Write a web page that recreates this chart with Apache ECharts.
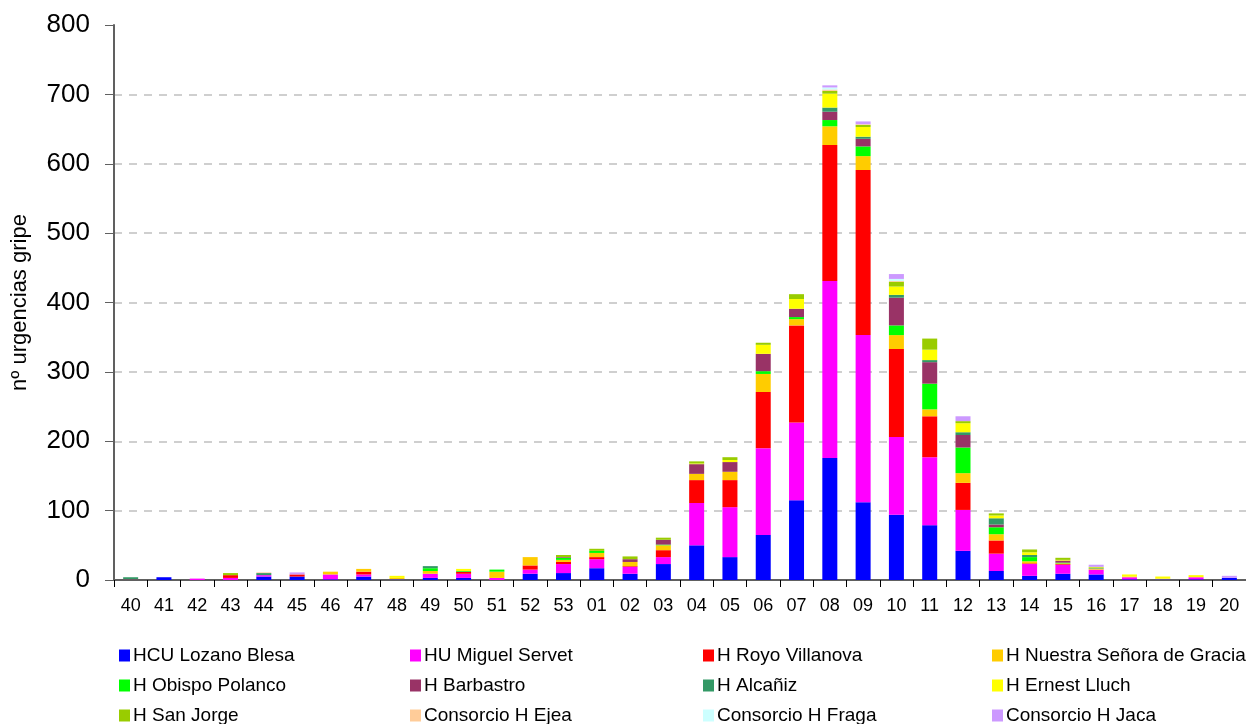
<!DOCTYPE html>
<html>
<head>
<meta charset="utf-8">
<script src="https://cdn.jsdelivr.net/npm/echarts@6/dist/echarts.min.js"></script>
<style>
html,body{margin:0;padding:0;background:#fff;}
#chart{width:1246px;height:724px;}
</style>
</head>
<body>
<div id="chart"></div>
<script>
const weeks = ['40','41','42','43','44','45','46','47','48','49','50','51','52','53','01','02','03','04','05','06','07','08','09','10','11','12','13','14','15','16','17','18','19','20'];
const yTicks = [0,100,200,300,400,500,600,700,800];

//                40 41 42 43 44 45 46 47 48 49 50 51 52 53 01 02 03 04 05  06  07  08  09  10  11  12  13 14 15 16 17 18 19 20
const hcuLozano  = [0, 4, 0, 0, 5, 5, 1, 5, 1, 3, 3, 0, 9,10,17, 9,23,50,33, 65,115,176,112, 94, 79, 42, 13, 6, 9, 8, 1, 1, 1, 3];
const huMiguel   = [0, 0, 2, 3, 2, 0, 7, 3, 0, 6, 6, 3, 6,13,13,10,10,61,72,125,112,255,241,112, 98, 59, 25,17,13, 7, 3, 0, 3, 0];
const hRoyo      = [0, 0, 0, 4, 0, 3, 0, 4, 0, 0, 3, 0, 6, 3, 3, 1,10,33,39, 81,140,196,238,127, 59, 39, 19, 1, 1, 0, 0, 0, 0, 0];
const hNuestra   = [0, 0, 0, 0, 0, 0, 4, 4, 2, 4, 0, 9,12, 3, 6, 6, 7, 9,12, 26,  9, 27, 20, 20, 10, 14,  9, 3, 1, 1, 1, 1, 0, 0];
const hObispo    = [0, 0, 0, 0, 0, 0, 0, 0, 0, 4, 1, 3, 0, 3, 3, 0, 1, 0, 0,  4,  3,  9, 14, 14, 37, 37, 10, 6, 1, 0, 0, 0, 0, 0];
const hBarbastro = [1, 0, 0, 0, 0, 0, 0, 0, 0, 0, 0, 0, 0, 1, 0, 4, 7,14,14, 25, 12, 12, 11, 40, 31, 18,  4, 0, 3, 0, 0, 0, 0, 0];
const hAlcaniz   = [3, 0, 0, 0, 3, 0, 0, 0, 0, 3, 0, 0, 0, 0, 0, 0, 0, 0, 0,  0,  0,  6,  3,  4,  3,  4,  9, 3, 0, 1, 0, 0, 0, 0];
const hErnest    = [0, 0, 0, 0, 0, 0, 0, 0, 3, 0, 3, 0, 0, 0, 0, 0, 0, 1, 3, 13, 14, 20, 14, 12, 15, 13,  4, 4, 1, 1, 3, 3, 3, 0];
const hSanJorge  = [0, 0, 0, 3, 0, 0, 0, 0, 0, 0, 0, 0, 0, 3, 3, 4, 3, 3, 4,  3,  7,  4,  3,  7, 16,  3,  3, 4, 3, 1, 0, 0, 0, 0];
const cEjea      = [0, 0, 0, 0, 1, 0, 0, 0, 0, 0, 0, 0, 0, 0, 0, 0, 0, 0, 0,  0,  0,  2,  1,  1,  0,  0,  0, 0, 0, 0, 0, 0, 0, 0];
const cFraga     = [0, 0, 0, 0, 0, 0, 0, 0, 0, 0, 0, 0, 0, 0, 0, 0, 0, 0, 0,  0,  0,  3,  0,  3,  0,  0,  0, 0, 0, 0, 0, 0, 0, 0];
const cJaca      = [0, 0, 0, 0, 0, 3, 0, 0, 0, 0, 0, 0, 0, 0, 0, 0, 0, 0, 0,  0,  0,  3,  4,  7,  0,  7,  0, 0, 0, 3, 0, 0, 0, 3];

const seriesNames = ['HCU Lozano Blesa','HU Miguel Servet','H Royo Villanova','H Nuestra Señora de Gracia',
  'H Obispo Polanco','H Barbastro','H Alcañiz','H Ernest Lluch',
  'H San Jorge','Consorcio H Ejea','Consorcio H Fraga','Consorcio H Jaca'];
const seriesData = [hcuLozano,huMiguel,hRoyo,hNuestra,hObispo,hBarbastro,hAlcaniz,hErnest,hSanJorge,cEjea,cFraga,cJaca];
const colors = ['#0000FF','#FF00FF','#FF0000','#FFCC00','#00FF00','#993366','#339966','#FFFF00','#99CC00','#FFCC99','#CCFFFF','#CC99FF'];

const chart = echarts.init(document.getElementById('chart'));
const font = 'Liberation Sans, Arial, sans-serif';

const colLeft = [119, 410, 703, 992];
const rowTop = [646, 676, 706];
const legends = seriesNames.map((n, i) => ({
  orient: 'horizontal',
  left: colLeft[i % 4],
  top: rowTop[Math.floor(i / 4)],
  itemWidth: 11,
  itemHeight: 12,
  icon: 'rect',
  selectedMode: false,
  padding: 0,
  textStyle: {fontFamily: font, fontSize: 19, color: '#000', padding: [0,0,0,-2]},
  data: [n]
}));

const gridColors = yTicks.map(v => v === 800 ? 'rgba(0,0,0,0)' : '#CFCFCF');

const option = {
  animation: false,
  color: colors,
  grid: {left: 114, right: 0, top: 25, bottom: 144, containLabel: false},
  legend: legends,
  xAxis: {
    type: 'category',
    data: weeks,
    axisLine: {lineStyle: {color: '#606060', width: 2}},
    axisTick: {show: true, alignWithLabel: false, length: 7, lineStyle: {color: '#000'}},
    axisLabel: {fontFamily: font, fontSize: 18, color: '#000', margin: 17, interval: 0},
    splitLine: {show: false}
  },
  yAxis: {
    type: 'value',
    min: 0, max: 800, interval: 100,
    name: 'nº urgencias gripe',
    nameLocation: 'middle',
    nameGap: 83,
    nameTextStyle: {fontFamily: font, fontSize: 22, color: '#000'},
    axisLine: {show: true, lineStyle: {color: '#606060', width: 2}},
    axisTick: {show: true, length: 9, lineStyle: {color: '#606060'}},
    axisLabel: {fontFamily: font, fontSize: 26, color: '#000', margin: 24},
    splitLine: {show: true, lineStyle: {color: gridColors, width: 2, type: [8, 7]}}
  },
  series: seriesNames.map((n, i) => ({
    name: n,
    type: 'bar',
    stack: 'total',
    barWidth: 15,
    data: seriesData[i],
    itemStyle: {color: colors[i]}
  }))
};
chart.setOption(option);
</script>
</body>
</html>
